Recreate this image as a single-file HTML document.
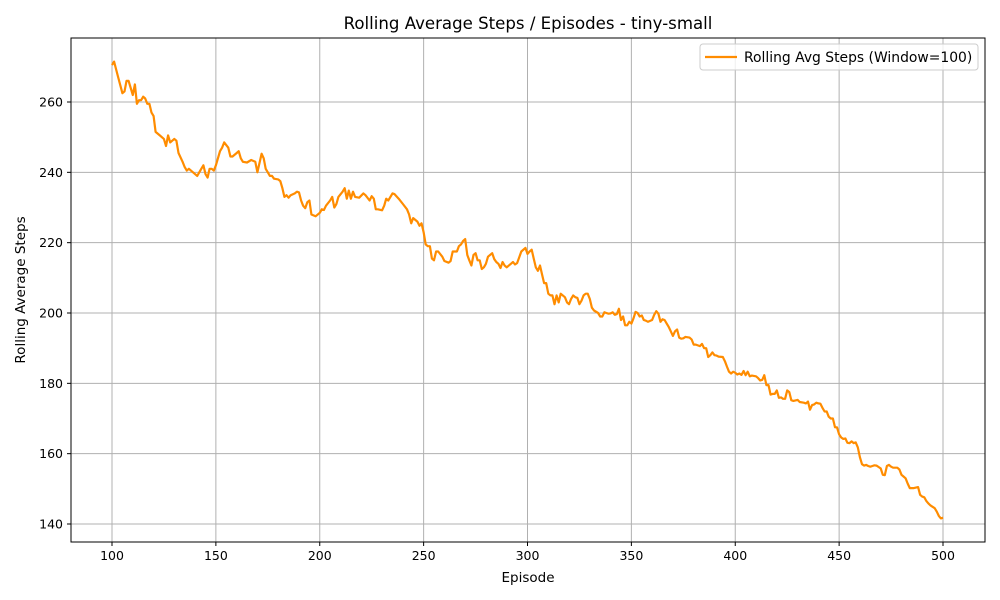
<!DOCTYPE html>
<html><head><meta charset="utf-8"><style>
body{margin:0;background:#fff;font-family:"DejaVu Sans","Liberation Sans",sans-serif}
svg{display:block}
</style></head><body>
<svg id="chart" width="1000" height="600" xmlns="http://www.w3.org/2000/svg" font-family="DejaVu Sans, Liberation Sans, sans-serif">
<rect width="1000" height="600" fill="#fff"/>
<text x="528" y="29" text-anchor="middle" font-size="16.6" fill="#000">Rolling Average Steps / Episodes - tiny-small</text>
<g id="grid"></g>
<g id="series"></g>
<rect x="71" y="38" width="914" height="504" fill="none" stroke="#000" stroke-width="1"/>
<g id="ticks"></g>
<text x="528" y="582" text-anchor="middle" font-size="13.5">Episode</text>
<text transform="translate(25,290) rotate(-90)" text-anchor="middle" font-size="13.5">Rolling Average Steps</text>
<g>
<rect x="700" y="44" width="278" height="26" rx="3" fill="#fff" fill-opacity="0.8" stroke="#ccc"/>
<line x1="705" y1="57" x2="737" y2="57" stroke="#ff8c00" stroke-width="2.2"/>
<text x="744" y="62" font-size="13.9">Rolling Avg Steps (Window=100)</text>
</g>
</svg>
<script>
const episodes=[100,101,103,105,106,107,108,110,111,112,113,114,115,116,117,118,119,120,121,123,125,126,127,128,130,131,132,134,135,136,137,139,141,143,144,145,146,147,148,149,150,152,153,154,156,157,158,160,161,162,163,165,167,169,170,172,173,174,175,176,177,178,180,181,182,183,184,185,186,188,189,190,191,192,193,194,195,196,198,200,201,202,203,205,206,207,208,209,211,212,213,214,215,216,217,219,221,222,224,225,226,227,228,230,231,232,233,234,235,236,238,240,242,243,244,245,247,248,249,250,251,252,253,254,255,256,257,259,260,262,263,264,266,267,268,269,270,271,272,273,274,275,276,277,278,279,280,281,283,284,285,286,287,288,289,290,292,293,294,295,296,297,299,300,301,302,303,304,305,306,307,308,309,310,311,312,313,314,315,316,318,319,320,321,322,323,324,325,326,327,328,329,330,331,332,334,335,336,337,338,339,340,341,342,343,344,345,346,347,348,349,350,351,352,353,354,355,356,357,358,360,361,362,363,364,365,366,367,368,369,370,371,372,373,374,375,376,378,379,380,381,383,384,385,386,387,388,389,390,391,392,394,395,396,397,398,399,400,401,402,403,404,405,406,407,408,410,411,412,413,414,415,416,417,418,419,420,421,422,423,424,425,426,427,428,430,431,433,434,435,436,437,438,439,440,441,442,443,444,445,446,447,448,449,450,451,452,453,454,455,456,457,458,459,460,461,462,463,464,465,466,467,468,469,470,471,472,473,474,475,476,478,479,480,481,482,483,484,486,488,489,490,491,492,493,494,495,496,497,498,499,500];
const steps=[270.5,271.5,267,262.5,263,266,266,262,265,259.5,260.5,260.5,261.5,261,259.5,259.5,257,256,251.5,250.5,249.5,247.5,250.5,248.5,249.5,249,245.5,243,241.5,240.5,241,240,239,241,242,239.5,238.5,241,241,240.5,242,246,247,248.5,247,244.5,244.5,245.5,246,244,243,242.8,243.5,243,240,245.3,244,241,240,239,239,238.2,238,237.5,235.5,233,233.5,232.8,233.5,234,234.5,234.3,232,230.5,229.8,231.5,232,228,227.5,228.5,229.5,229.3,230.5,232,233,230,231,233,234.5,235.5,232.5,234.8,232.5,234.5,233,232.8,234,233.5,232,233.2,232.5,229.5,229.5,229.2,230.5,232.5,232,233,234,233.8,232.5,231,229.5,228,225.5,227,226,224.8,225.5,223,219.5,219,219,215.5,215,217.5,217.5,216,214.8,214.3,214.8,217.5,217.5,219,219.5,220.5,221,216.5,215,213.5,216.5,217,215,215,212.5,213,214,216,217,215.3,214.5,214,212.8,214.5,213.5,213,214,214.5,213.8,214.2,215.8,217.5,218.5,216.8,217.5,218,215.5,213,212,213.5,211,208.5,208.5,205.5,205,205,202.5,205,203,205.5,204.5,203,202.5,204,205,204.5,204.3,202.5,203.5,205,205.5,205.5,204,201.5,200.7,200,199,199,200.2,200,199.8,199.9,200.2,199.5,199.7,201.2,198,199,196.5,196.5,197.5,197,198.5,200.3,200,199,199.3,198,197.8,197.5,198,199.5,200.5,199.8,197.5,198.2,198,197,196,194.8,193.5,194.8,195.3,193,192.7,192.8,193.2,193,192.5,191,191,190.6,191.2,190,190,187.5,188,188.8,188,187.9,187.6,187.5,186.3,184.8,183.3,182.8,183.3,183,182.5,182.8,182.4,183.5,182.3,183.3,182,182.2,182,181.5,180.8,181,182.3,179.5,179.5,176.8,177,177,178,175.9,176,175.6,175.6,178,177.5,175.2,175,175.3,174.7,174.5,174.3,174.8,172.5,173.8,174,174.5,174.3,174.2,173,172,172,170.5,170,170,167.5,167.5,165.5,164.6,164.2,164.3,163.1,163,163.5,163,163.2,161.8,159,157,156.6,156.8,156.5,156.3,156.5,156.7,156.6,156.2,155.8,154,153.9,156.5,156.8,156.3,156,156,155.5,154,153.5,153,151.5,150.2,150.2,150.5,148.3,147.8,147.6,146.5,145.8,145.3,144.9,144.5,143.5,142.3,141.6,141.8];
const xTicks=[100,150,200,250,300,350,400,450,500];
const yTicks=[140,160,180,200,220,240,260];
const NS="http://www.w3.org/2000/svg";
const X0=71,X1=985,Y0=38,Y1=542;
function xs(v){return 112+(v-100)*(943-112)/400;}
function ys(v){return 524-(v-140)*(524-102)/120;}
const grid=document.getElementById('grid'),ticks=document.getElementById('ticks'),series=document.getElementById('series');
function mk(tag,attrs,parent){const e=document.createElementNS(NS,tag);for(const k in attrs)e.setAttribute(k,attrs[k]);parent.appendChild(e);return e;}
xTicks.forEach(t=>{const x=xs(t);
 const g=mk('line',{x1:x,x2:x,y1:Y0,y2:Y1,stroke:'#b0b0b0','stroke-width':1},grid);
 
 
 const tk=mk('line',{x1:x,x2:x,y1:Y1,y2:Y1+4,stroke:'#000'},ticks);
 
 
 const tx=mk('text',{x:x,y:Y1+18,'text-anchor':'middle','font-size':12.5},ticks);tx.textContent=t;
 
 
});
yTicks.forEach(t=>{const y=ys(t);
 const g=mk('line',{x1:X0,x2:X1,y1:y,y2:y,stroke:'#b0b0b0','stroke-width':1},grid);
 
 
 const tk=mk('line',{x1:X0-4,x2:X0,y1:y,y2:y,stroke:'#000'},ticks);
 
 
 const tx=mk('text',{x:X0-8,y:y+4.5,'text-anchor':'end','font-size':12.5},ticks);tx.textContent=t;
 
 
});
const d=episodes.map((e,i)=>(i?'L':'M')+xs(e).toFixed(1)+' '+ys(steps[i]).toFixed(1)).join(' ');
const p=mk('path',{d:d,fill:'none',stroke:'#ff8c00','stroke-width':2.2,'stroke-linejoin':'round'},series);


</script>
</body></html>
